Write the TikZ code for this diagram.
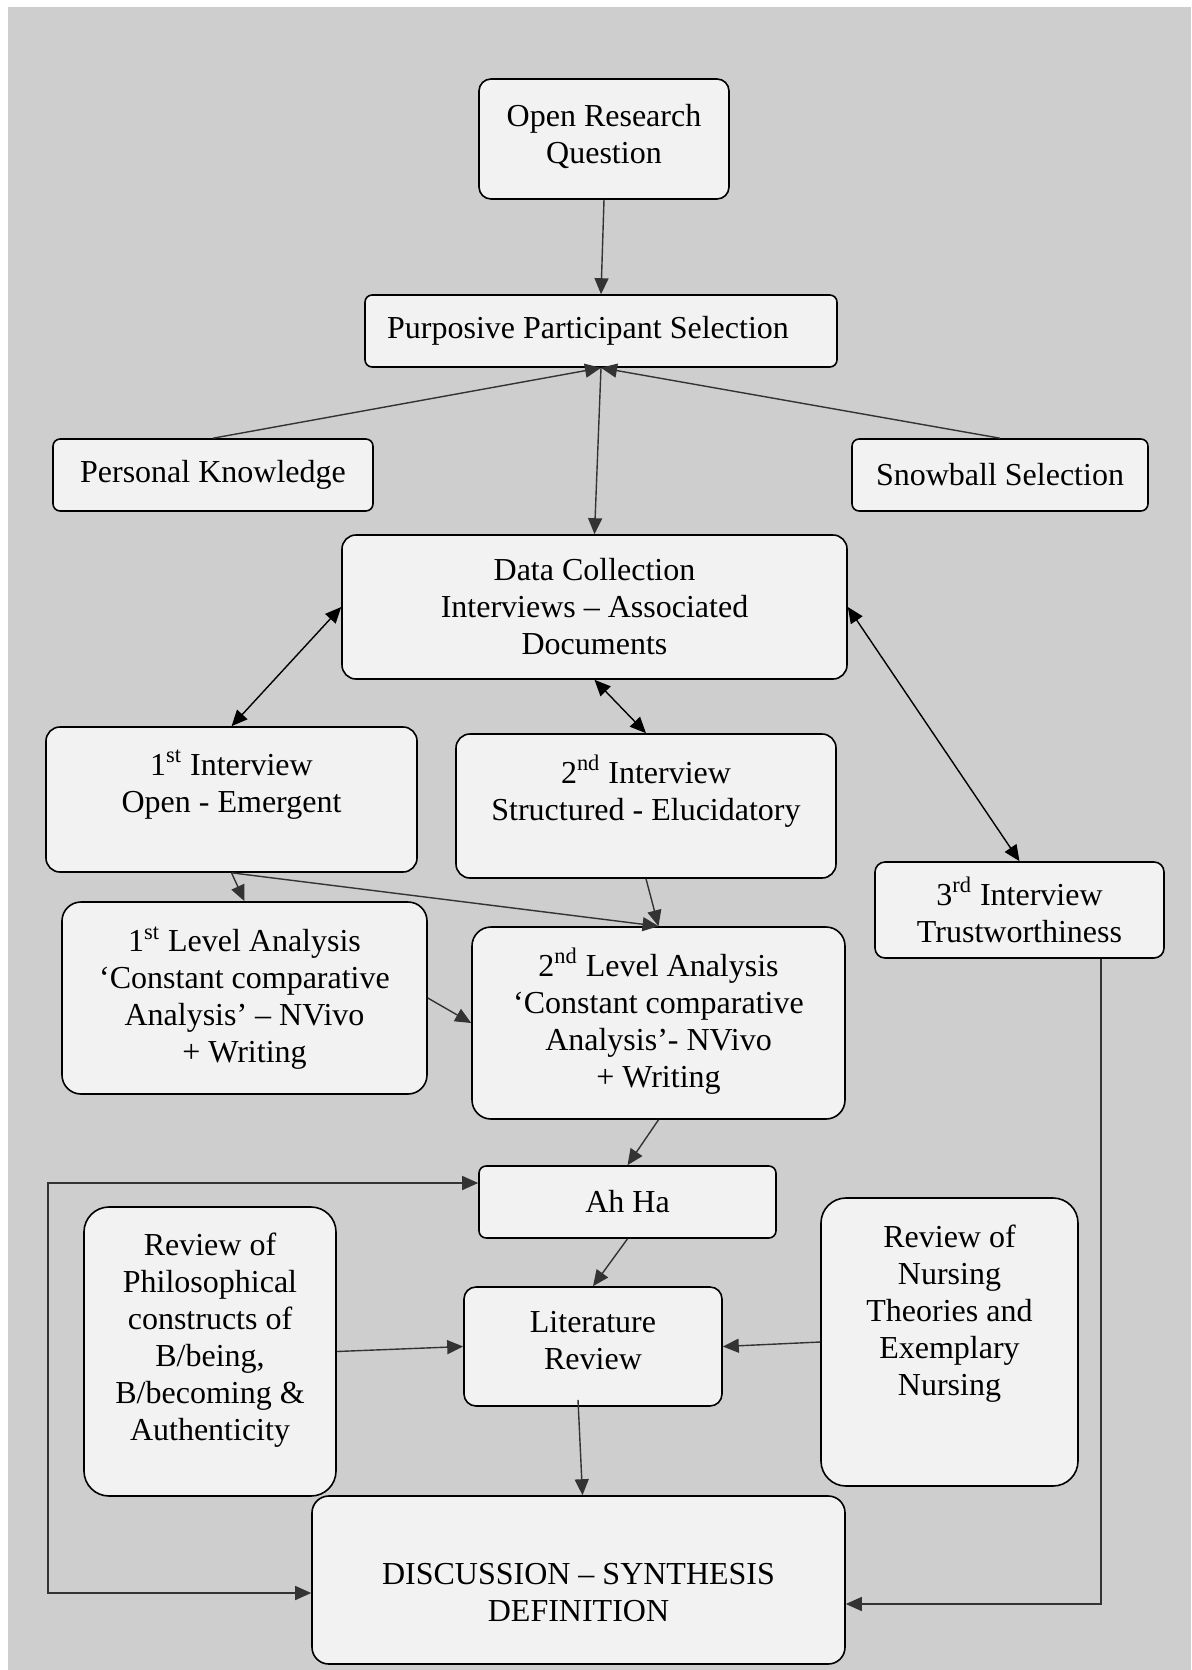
\documentclass[tikz,border=0pt]{standalone}
\usepackage{fontspec}
\setmainfont{Liberation Serif}
\usepackage{tikz}
\usetikzlibrary{arrows.meta}
\definecolor{bggrey}{RGB}{206,206,206}
\definecolor{boxfill}{RGB}{242,242,242}
\definecolor{linkgrey}{RGB}{51,51,51}
\tikzset{>={Triangle[length=8pt,width=7pt]}}
\tikzset{
  box/.style={draw=black, line width=0.8pt, fill=boxfill, align=center, inner sep=2pt,
    font=\fontsize{16}{18.5}\selectfont},
  link/.style={->, draw=linkgrey, line width=0.7pt},
  twoway/.style={<->, draw=black, line width=0.7pt}
}

\begin{document}
\begin{tikzpicture}[x=0.5pt,y=-0.5pt]
        \useasboundingbox (0,0) rectangle (1191,1670);
        \fill[white] (0,0) rectangle (1191,1670);
        \fill[bggrey] (8,7) rectangle (1191,1670);
        %%%
        \node[box,rounded corners=6pt,minimum width=125pt,minimum height=60pt] (orq) at (604,139) {Open Research\\Question\\[-13pt]\mbox{}};
        \node[box,rounded corners=3.6pt,minimum width=236pt,minimum height=36pt] (pps) at (601,331) {Purposive Participant Selection\hspace{13pt}};
        \node[box,rounded corners=3.6pt,minimum width=160pt,minimum height=36pt] (pk) at (213,475) {Personal Knowledge};
        \node[box,rounded corners=3.6pt,minimum width=148pt,minimum height=36pt] (sn) at (1000,475) {Snowball Selection};
        \node[box,rounded corners=7pt,minimum width=252.5pt,minimum height=72pt] (dc) at (594.5,607) {Data Collection\\Interviews – Associated\\Documents};
        %%%
        \node[box,rounded corners=7pt,minimum width=185.5pt,minimum height=72.5pt] (i1) at (231.5,799.5) {1\textsuperscript{st} Interview\\Open - Emergent\\\mbox{}};
        \node[box,rounded corners=7pt,minimum width=190pt,minimum height=72pt] (i2) at (646,806) {2\textsuperscript{nd} Interview\\Structured - Elucidatory\\\mbox{}};
        \node[box,rounded corners=5pt,minimum width=144.5pt,minimum height=48pt] (i3) at (1019.5,910) {3\textsuperscript{rd} Interview\\Trustworthiness};
        \node[box,rounded corners=9.5pt,minimum width=182.5pt,minimum height=96pt] (l1) at (244.5,998) {1\textsuperscript{st} Level Analysis\\‘Constant comparative\\Analysis’ – NVivo\\+ Writing};
        \node[box,rounded corners=9.5pt,minimum width=186.5pt,minimum height=96pt] (l2) at (658.5,1023) {2\textsuperscript{nd} Level Analysis\\‘Constant comparative\\Analysis’- NVivo\\+ Writing\\[-13pt]\mbox{}};
        %%%
        \node[box,rounded corners=3.6pt,minimum width=148.5pt,minimum height=36pt] (ah) at (627.5,1202) {Ah Ha};
        \node[box,rounded corners=6pt,minimum width=129pt,minimum height=59.5pt] (lr) at (593,1346.5) {Literature\\Review\\[-12pt]\mbox{}};
        \node[box,rounded corners=12.5pt,minimum width=126pt,minimum height=144.5pt] (ph) at (210,1351.5) {Review of\\Philosophical\\constructs of\\B/being,\\B/becoming \&\\Authenticity\\[-4pt]\mbox{}};
        \node[box,rounded corners=12.5pt,minimum width=128.5pt,minimum height=144pt] (nu) at (949.5,1342) {Review of\\Nursing\\Theories and\\Exemplary\\Nursing\\\mbox{}\\[-5pt]\mbox{}};
        \node[box,rounded corners=8.4pt,minimum width=266.5pt,minimum height=84pt] (disc) at (578.5,1580) {\mbox{}\\[5pt]DISCUSSION – SYNTHESIS\\DEFINITION};
        %%%
        \coordinate (lpbot) at (48,1593);
        \coordinate (lptop) at (48,1183);
        \coordinate (rpbot) at (1101,1604);
        %%%
        \draw[link] (orq.south) -- (pps.north);
        \draw[link] (pk.north) -- (pps.south);
        \draw[link] (sn.north) -- (pps.south);
        \draw[link] (pps.south) -- (dc.north);
        \draw[twoway] (dc.west) -- (i1.north);
        \draw[twoway] (dc.south) -- (i2.north);
        \draw[twoway] (dc.east) -- (i3.north);
        %%%
        \draw[link] (i1.south) -- (l1.north);
        \draw[link] (i1.south) -- (l2.north);
        \draw[link] (i2.south) -- (l2.north);
        \draw[link] (l1.east) -- (l2.west);
        \draw[link] (l2.south) -- (ah.north);
        \draw[link] (ah.south) -- (lr.north);
        \draw[link] (ph.east) -- (lr.west);
        \draw[link] (nu.west) -- (lr.east);
        \draw[link] ([xshift=-7.5pt,yshift=3.5pt]lr.south) -- ([xshift=2pt]disc.north);
        %%%
        \draw[link,<->] (disc.west |- lpbot) -- (lpbot) -- (lptop) -- (lptop -| ah.west);
        \draw[link] (i3.south -| rpbot) -- (rpbot) -- (rpbot -| disc.east);
    \end{tikzpicture}
\end{document}
